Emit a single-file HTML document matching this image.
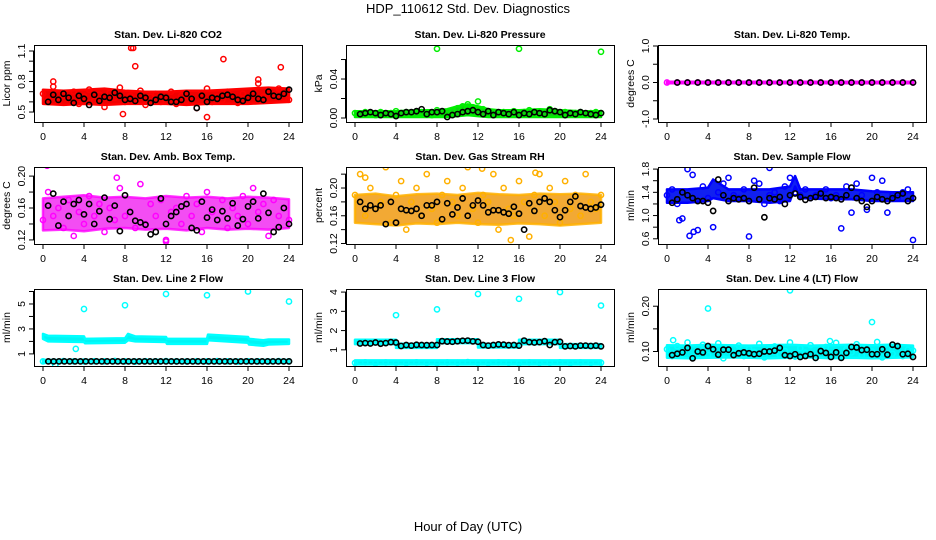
<!DOCTYPE html>
<html><head><meta charset="utf-8"><style>
html,body{margin:0;padding:0;background:#fff}
svg{display:block;font-family:"Liberation Sans",sans-serif}
</style></head><body>
<svg id="chart" width="936" height="540" viewBox="0 0 936 540">
<text x="468" y="13" text-anchor="middle" font-size="13">HDP_110612  Std. Dev. Diagnostics</text>
<text x="468" y="531" text-anchor="middle" font-size="13">Hour of Day (UTC)</text>
</svg>
<script>
// ---- data ----
const xTicks = [0,4,8,12,16,20,24];
// P1 CO2
const co2Pts = [0.68,0.62,0.75,0.60,0.66,0.63,0.70,0.58,0.65,0.72,0.61,0.67,0.55,0.69,0.64,0.74,0.60,0.66,0.62,0.71,0.57,0.65,0.68,0.60,0.63,0.70,0.58,0.66,0.61,0.64,0.54,0.69,0.73,0.60,0.65,0.62,0.70,0.66,0.59,0.68,0.63,0.71,0.78,0.65,0.70,0.67,0.73,0.64,0.62];
const co2Blk = [0.60,0.67,0.62,0.68,0.64,0.59,0.66,0.63,0.57,0.67,0.61,0.65,0.64,0.69,0.66,0.62,0.63,0.61,0.66,0.64,0.59,0.62,0.65,0.64,0.60,0.60,0.62,0.68,0.63,0.54,0.66,0.60,0.64,0.63,0.66,0.67,0.65,0.62,0.61,0.64,0.68,0.63,0.62,0.70,0.66,0.65,0.68,0.72];
const co2BandX = [0,2,4,6,8,10,12,14,16,18,20,22,24];
const co2BandLo = [0.58,0.57,0.58,0.57,0.58,0.58,0.58,0.57,0.58,0.58,0.58,0.59,0.60];
const co2BandHi = [0.72,0.71,0.72,0.73,0.71,0.70,0.70,0.71,0.71,0.72,0.73,0.74,0.73];
const co2OutX = [8.6,8.8,9.0,17.6,23.2,16.0,7.8,1.0,21.0];
const co2OutY = [1.13,1.13,0.95,1.02,0.94,0.45,0.48,0.80,0.82];
// P2 pressure
const presPts = [0.005,0.004,0.006,0.005,0.003,0.006,0.004,0.005,0.007,0.004,0.006,0.005,0.004,0.006,0.005,0.003,0.008,0.006,0.004,0.007,0.010,0.012,0.014,0.011,0.017,0.009,0.006,0.005,0.004,0.006,0.005,0.007,0.004,0.006,0.008,0.005,0.006,0.004,0.009,0.007,0.005,0.006,0.004,0.005,0.006,0.004,0.005,0.006,0.005];
const presBlk = [0.004,0.005,0.006,0.005,0.003,0.005,0.004,0.002,0.005,0.006,0.006,0.007,0.009,0.004,0.006,0.006,0.007,0.001,0.003,0.004,0.006,0.007,0.008,0.006,0.004,0.007,0.003,0.006,0.005,0.004,0.006,0.003,0.005,0.004,0.006,0.005,0.004,0.008,0.007,0.006,0.003,0.005,0.004,0.006,0.005,0.004,0.003,0.005];
const presBandX = [0,2,4,6,8,9,10,11,12,13,14,16,18,20,22,24];
const presBandLo = [0.001,0.001,0.001,0.001,0.001,0.001,0.002,0.003,0.002,0.001,0.001,0.001,0.001,0.001,0.001,0.001];
const presBandHi = [0.007,0.007,0.007,0.008,0.008,0.009,0.012,0.014,0.012,0.009,0.008,0.008,0.009,0.008,0.007,0.007];
const presOutX = [8,16,24];
const presOutY = [0.071,0.071,0.068];
// P3 temperature
const tempPts = [0,0,0,0,0,0,0,0,0,0,0,0,0,0,0,0,0,0,0,0,0,0,0,0,0];
const tempBlk = [0,0,0,0,0,0,0,0,0,0,0,0,0,0,0,0,0,0,0,0,0,0,0,0];
const tempBandX = [0,24];
const tempBandLo = [-0.02,-0.02];
const tempBandHi = [0.02,0.02];
// P4 amb box temp
const ambPts = [0.145,0.18,0.15,0.16,0.135,0.17,0.125,0.155,0.14,0.175,0.15,0.165,0.13,0.16,0.145,0.185,0.15,0.155,0.135,0.19,0.14,0.165,0.15,0.17,0.12,0.155,0.16,0.14,0.175,0.15,0.165,0.13,0.18,0.155,0.145,0.17,0.135,0.16,0.15,0.175,0.14,0.185,0.155,0.165,0.125,0.17,0.15,0.16,0.145];
const ambBlk = [0.163,0.178,0.138,0.168,0.150,0.165,0.170,0.152,0.165,0.140,0.156,0.173,0.146,0.163,0.131,0.176,0.155,0.144,0.142,0.139,0.127,0.130,0.172,0.140,0.150,0.155,0.162,0.165,0.135,0.132,0.168,0.148,0.158,0.145,0.156,0.147,0.166,0.138,0.146,0.162,0.168,0.147,0.178,0.154,0.130,0.136,0.160,0.140];
const ambBandX = [0,2,4,6,8,10,12,14,16,18,20,22,24];
const ambBandLo = [0.132,0.133,0.131,0.134,0.135,0.133,0.134,0.132,0.135,0.133,0.134,0.133,0.135];
const ambBandHi = [0.172,0.174,0.176,0.173,0.174,0.172,0.175,0.173,0.174,0.172,0.174,0.173,0.171];
const ambOutX = [0.4,7.2,12.0];
const ambOutY = [0.213,0.198,0.118];
// P5 RH
const rhPts = [0.19,0.22,0.16,0.20,0.17,0.18,0.23,0.15,0.19,0.21,0.14,0.18,0.20,0.16,0.22,0.17,0.15,0.19,0.21,0.18,0.16,0.20,0.23,0.17,0.15,0.19,0.18,0.22,0.14,0.20,0.17,0.16,0.21,0.18,0.13,0.19,0.22,0.16,0.20,0.18,0.15,0.21,0.17,0.19,0.16,0.22,0.18,0.17,0.19];
const rhBlk = [0.180,0.170,0.175,0.170,0.175,0.148,0.180,0.150,0.170,0.168,0.167,0.170,0.160,0.175,0.175,0.180,0.155,0.178,0.162,0.172,0.185,0.160,0.175,0.182,0.175,0.165,0.168,0.168,0.165,0.163,0.173,0.163,0.140,0.178,0.167,0.180,0.185,0.180,0.168,0.158,0.168,0.180,0.188,0.174,0.172,0.170,0.172,0.176];
const rhBandX = [0,2,4,6,8,10,12,14,16,18,20,22,24];
const rhBandLo = [0.150,0.148,0.146,0.149,0.148,0.150,0.148,0.147,0.149,0.148,0.146,0.148,0.150];
const rhBandHi = [0.190,0.192,0.188,0.191,0.192,0.190,0.193,0.191,0.190,0.192,0.191,0.192,0.190];
const rhOutX = [12.4,17.6,1.0,15.2];
const rhOutY = [0.228,0.222,0.215,0.125];
// P6 sample flow
const flowPts = [1.35,1.45,1.20,0.95,1.80,1.70,0.75,1.50,1.30,0.80,1.40,1.55,1.65,1.35,1.30,1.45,1.25,1.60,1.55,1.20,1.35,1.40,1.25,1.50,1.65,1.40,1.35,1.45,1.30,1.35,1.40,1.45,1.30,1.35,0.78,1.50,1.05,1.55,1.35,1.10,1.65,1.40,1.60,1.05,1.35,1.30,1.40,1.45,0.58];
const flowBlk = [1.22,1.28,1.40,1.35,1.30,1.25,1.25,1.22,1.08,1.62,1.35,1.25,1.30,1.28,1.30,1.25,1.48,1.28,0.97,1.30,1.28,1.32,1.20,1.35,1.38,1.32,1.27,1.30,1.32,1.38,1.30,1.32,1.30,1.28,1.35,1.48,1.30,1.25,1.15,1.25,1.32,1.28,1.25,1.30,1.35,1.38,1.25,1.30];
const flowBandX = [0,2,4,4.5,6,8,10,12,12.5,13,16,18,20,22,24];
const flowBandLo = [1.22,1.22,1.25,1.30,1.25,1.25,1.22,1.25,1.50,1.30,1.28,1.28,1.25,1.25,1.25];
const flowBandHi = [1.45,1.45,1.48,1.62,1.45,1.45,1.45,1.50,1.68,1.45,1.45,1.45,1.42,1.40,1.40];
const flowOutX = [8.0,10.0,2.2,2.6,1.2];
const flowOutY = [0.64,1.82,0.65,0.72,0.92];
// P7 line 2 flow
const l2Pts = [0.40,0.38,0.42,0.40,0.39,0.41,0.40,0.43,0.40,0.38,0.41,0.40,0.42,0.40,0.39,0.41,0.40,0.42,0.40,0.38,0.41,0.40,0.39,0.42,0.40];
const l2Blk = [0.40,0.40,0.40,0.40,0.40,0.40,0.40,0.40,0.40,0.40,0.40,0.40,0.40,0.40,0.40,0.40,0.40,0.40,0.40,0.40,0.40,0.40,0.40,0.40,0.40,0.40,0.40,0.40,0.40,0.40,0.40,0.40,0.40,0.40,0.40,0.40,0.40,0.40,0.40,0.40,0.40,0.40,0.40,0.40,0.40,0.40];
const l2BandX = [0,0.5,4,4.1,8,8.3,9,12,12.1,16,16.1,20,20.1,21.5,22,24];
const l2BandLo = [2.2,2.0,1.95,1.85,1.9,2.1,2.0,1.95,1.8,1.8,2.1,1.9,1.75,1.65,1.75,1.8];
const l2BandHi = [2.6,2.45,2.4,2.2,2.25,2.6,2.4,2.35,2.2,2.2,2.55,2.35,2.2,2.1,2.15,2.15];
const l2Band2X = [0,24];
const l2Band2Lo = [0.28,0.28];
const l2Band2Hi = [0.52,0.52];
const l2OutX = [3.2,4.0,8.0,12.0,16.0,20.0,24.0,1.2];
const l2OutY = [1.4,4.6,4.9,5.8,5.7,6.0,5.2,0.1];
// P8 line 3 flow
const l3Pts = [0.32,0.35,0.30,0.34,0.33,0.31,0.35,0.32,0.30,0.34,0.33,0.36,0.32,0.31,0.35,0.33,0.30,0.34,0.32,0.33,0.35,0.31,0.34,0.32,0.33];
const l3Blk = [1.33,1.35,1.33,1.38,1.32,1.35,1.40,1.38,1.20,1.25,1.22,1.26,1.25,1.24,1.25,1.25,1.45,1.43,1.42,1.45,1.47,1.48,1.44,1.42,1.25,1.22,1.25,1.28,1.27,1.24,1.25,1.22,1.48,1.40,1.38,1.40,1.45,1.25,1.40,1.42,1.18,1.20,1.18,1.22,1.22,1.20,1.22,1.18];
const l3BandX = [0,4,4,8,8,12,12,16,16,20,20,24];
const l3BandLo = [1.30,1.30,1.10,1.10,1.35,1.35,1.12,1.12,1.30,1.30,1.10,1.10];
const l3BandHi = [1.52,1.52,1.32,1.32,1.55,1.55,1.32,1.32,1.52,1.52,1.30,1.30];
const l3Band2X = [0,24];
const l3Band2Lo = [0.24,0.24];
const l3Band2Hi = [0.45,0.45];
const l3OutX = [4,8,12,16,20,24];
const l3OutY = [2.8,3.1,3.9,3.65,4.0,3.3];
// P9 line 4 flow
const l4Pts = [0.105,0.090,0.112,0.095,0.120,0.088,0.100,0.115,0.092,0.108,0.118,0.085,0.102,0.096,0.113,0.090,0.106,0.099,0.117,0.087,0.104,0.111,0.093,0.101,0.120,0.089,0.107,0.097,0.114,0.086,0.103,0.110,0.094,0.119,0.088,0.105,0.098,0.116,0.091,0.109,0.100,0.121,0.087,0.106,0.095,0.112,0.090,0.104,0.102];
const l4Blk = [0.092,0.095,0.098,0.108,0.085,0.100,0.098,0.112,0.105,0.093,0.104,0.104,0.092,0.096,0.098,0.096,0.094,0.095,0.100,0.100,0.102,0.108,0.092,0.090,0.094,0.088,0.090,0.094,0.086,0.101,0.097,0.088,0.098,0.086,0.097,0.110,0.109,0.103,0.104,0.094,0.094,0.105,0.093,0.115,0.112,0.094,0.095,0.088];
const l4BandX = [0,2,4,6,8,10,12,14,16,18,20,22,24];
const l4BandLo = [0.086,0.085,0.086,0.087,0.086,0.085,0.086,0.087,0.085,0.086,0.085,0.086,0.087];
const l4BandHi = [0.114,0.113,0.115,0.114,0.113,0.114,0.115,0.113,0.114,0.115,0.114,0.115,0.113];
const l4OutX = [4,12,20,0.6,15.9];
const l4OutY = [0.195,0.235,0.165,0.125,0.123];

// ---- layout ----
const svg = document.getElementById('chart');
const NS = 'http://www.w3.org/2000/svg';
function mk(tag, attrs, parent){ const e=document.createElementNS(NS,tag); for(const k in attrs) e.setAttribute(k,attrs[k]); (parent||svg).appendChild(e); return e; }

const panels = [
 {key:'co2',title:'Stan. Dev. Li-820 CO2',ylab:'Licor ppm',col:0,row:0,ymin:0.402,ymax:1.159,ticks:[0.5,0.6,0.7,0.8,0.9,1.0,1.1],labels:['0.5','0.8','1.1'],lv:[0.5,0.8,1.1],color:'#ff0000',band:'#f00000',op:1,
  pts:co2Pts,blk:co2Blk,bx:co2BandX,blo:co2BandLo,bhi:co2BandHi,ox:co2OutX,oy:co2OutY},
 {key:'pressure',title:'Stan. Dev. Li-820 Pressure',ylab:'kPa',col:1,row:0,ymin:-0.0041,ymax:0.0749,ticks:[0,0.02,0.04,0.06],labels:['0.00','0.04'],lv:[0,0.04],color:'#00ee00',band:'#10d010',op:1,
  pts:presPts,blk:presBlk,bx:presBandX,blo:presBandLo,bhi:presBandHi,ox:presOutX,oy:presOutY},
 {key:'temp',title:'Stan. Dev. Li-820 Temp.',ylab:'degrees C',col:2,row:0,ymin:-1.082,ymax:1.027,ticks:[-1,-0.5,0,0.5,1],labels:['-1.0','0.0','1.0'],lv:[-1,0,1],color:'#ff00ff',band:'#ff00ff',op:1,
  pts:tempPts,blk:tempBlk,bx:tempBandX,blo:tempBandLo,bhi:tempBandHi,ox:[],oy:[]},
 {key:'ambtemp',title:'Stan. Dev. Amb. Box Temp.',ylab:'degrees C',col:0,row:1,ymin:0.1149,ymax:0.2114,ticks:[0.12,0.14,0.16,0.18,0.20],labels:['0.12','0.16','0.20'],lv:[0.12,0.16,0.2],color:'#ff00ff',band:'#f020f0',op:0.8,
  pts:ambPts,blk:ambBlk,bx:ambBandX,blo:ambBandLo,bhi:ambBandHi,ox:ambOutX,oy:ambOutY},
 {key:'rh',title:'Stan. Dev. Gas Stream RH',ylab:'percent',col:1,row:1,ymin:0.1193,ymax:0.2303,ticks:[0.12,0.14,0.16,0.18,0.20,0.22],labels:['0.12','0.16','0.20'],lv:[0.12,0.16,0.2],color:'#ffb000',band:'#f09a10',op:0.85,
  pts:rhPts,blk:rhBlk,bx:rhBandX,blo:rhBandLo,bhi:rhBandHi,ox:rhOutX,oy:rhOutY},
 {key:'sampleflow',title:'Stan. Dev. Sample Flow',ylab:'ml/min',col:2,row:1,ymin:0.5104,ymax:1.836,ticks:[0.6,0.8,1.0,1.2,1.4,1.6,1.8],labels:['0.6','1.0','1.4','1.8'],lv:[0.6,1.0,1.4,1.8],color:'#0000ff',band:'#1020f0',op:1,
  pts:flowPts,blk:flowBlk,bx:flowBandX,blo:flowBandLo,bhi:flowBandHi,ox:flowOutX,oy:flowOutY},
 {key:'line2',title:'Stan. Dev. Line 2 Flow',ylab:'ml/min',col:0,row:2,ymin:0.03,ymax:6.2,ticks:[1,2,3,4,5,6],labels:['1','3','5'],lv:[1,3,5],color:'#00ffff',band:'#00f4f4',op:1,
  pts:l2Pts,blk:l2Blk,bx:l2BandX,blo:l2BandLo,bhi:l2BandHi,b2x:l2Band2X,b2lo:l2Band2Lo,b2hi:l2Band2Hi,ox:l2OutX,oy:l2OutY},
 {key:'line3',title:'Stan. Dev. Line 3 Flow',ylab:'ml/min',col:1,row:2,ymin:0.16,ymax:4.16,ticks:[1,2,3,4],labels:['1','2','3','4'],lv:[1,2,3,4],color:'#00ffff',band:'#00f4f4',op:1,
  pts:l3Pts,blk:l3Blk,bx:l3BandX,blo:l3BandLo,bhi:l3BandHi,b2x:l3Band2X,b2lo:l3Band2Lo,b2hi:l3Band2Hi,ox:l3OutX,oy:l3OutY},
 {key:'line4',title:'Stan. Dev. Line 4 (LT) Flow',ylab:'ml/min',col:2,row:2,ymin:0.068,ymax:0.238,ticks:[0.10,0.15,0.20],labels:['0.10','0.20'],lv:[0.1,0.2],color:'#00ffff',band:'#00f4f4',op:1,
  pts:l4Pts,blk:l4Blk,bx:l4BandX,blo:l4BandLo,bhi:l4BandHi,ox:l4OutX,oy:l4OutY}
];

panels.forEach(p=>{
  const L = 34 + p.col*312, R = L+268;
  const T = 45 + p.row*122, B = T+77;
  const x0 = L+9, x1 = L+255;
  const xs = h => x0 + (h/24)*(x1-x0);
  const ys = v => B - (v-p.ymin)/(p.ymax-p.ymin)*(B-T);
  const g = mk('g',{});
  
  
  const t = mk('text',{x:(L+R)/2,y:T-7,'text-anchor':'middle','font-size':'10.5','font-weight':'bold'},g);
  t.textContent = p.title;
  
  
  const clip = mk('clipPath',{id:'c'+p.key},g);
  mk('rect',{x:L,y:T,width:R-L,height:B-T},clip);
  const pg = mk('g',{'clip-path':'url(#c'+p.key+')'},g);
  function band(bx,lo,hi,name){
    let d = bx.map((h,i)=>xs(h).toFixed(1)+','+ys(hi[i]).toFixed(1));
    for(let i=bx.length-1;i>=0;i--) d.push(xs(bx[i]).toFixed(1)+','+ys(lo[i]).toFixed(1));
    const poly = mk('polygon',{points:d.join(' '),fill:p.band,'fill-opacity':p.op,stroke:p.color,'stroke-width':'2.5','stroke-opacity':p.op,'stroke-linejoin':'round'},pg);
    
    
  }
  band(p.bx,p.blo,p.bhi,'dense-band-'+p.key);
  if(p.b2x) band(p.b2x,p.b2lo,p.b2hi,'low-band-'+p.key);
  const n = p.pts.length;
  p.pts.forEach((v,i)=>{
    const c = mk('circle',{cx:xs(i*24/(n-1)),cy:ys(v),r:2.6,fill:'none',stroke:p.color,'stroke-width':'1.5'},pg);
    
    
  });
  p.ox.forEach((h,i)=>{
    const c = mk('circle',{cx:xs(h),cy:ys(p.oy[i]),r:2.6,fill:'none',stroke:p.color,'stroke-width':'1.5'},pg);
    
    
  });
  const m = p.blk.length;
  p.blk.forEach((v,i)=>{
    const c = mk('circle',{cx:xs((i+1)*24/m),cy:ys(v),r:2.6,fill:'none',stroke:'#000','stroke-width':'1.6'},pg);
    
    
  });
  const box = mk('rect',{x:L+0.5,y:T+0.5,width:R-L,height:B-T,fill:'none',stroke:'#000','stroke-width':'1'},g);
  
  
  xTicks.forEach(h=>{
    const x = xs(h);
    mk('line',{x1:x,x2:x,y1:B,y2:B+5,stroke:'#000'},g);
    const tl = mk('text',{x:x,y:B+18,'text-anchor':'middle','font-size':'10.5'},g);
    tl.textContent = h;
    
    
  });
  p.ticks.forEach(v=>{
    const y = ys(v);
    mk('line',{x1:L-5,x2:L,y1:y,y2:y,stroke:'#000'},g);
  });
  mk('line',{x1:L-0.5,x2:L-0.5,y1:ys(p.ticks[0]),y2:ys(p.ticks[p.ticks.length-1]),stroke:'#000'},g);
  p.lv.forEach((v,i)=>{
    const y = ys(v), x = L-9;
    const tl = mk('text',{x:x,y:y,'text-anchor':'middle','font-size':'10.5',transform:'rotate(-90 '+x+' '+y+')'},g);
    tl.textContent = p.labels[i];
    
    
  });
  const yx = L-24, yy=(T+B)/2;
  const yl = mk('text',{x:yx,y:yy,'text-anchor':'middle','font-size':'10.5',transform:'rotate(-90 '+yx+' '+yy+')'},g);
  yl.textContent = p.ylab;
  
  
});
</script>
</body></html>
